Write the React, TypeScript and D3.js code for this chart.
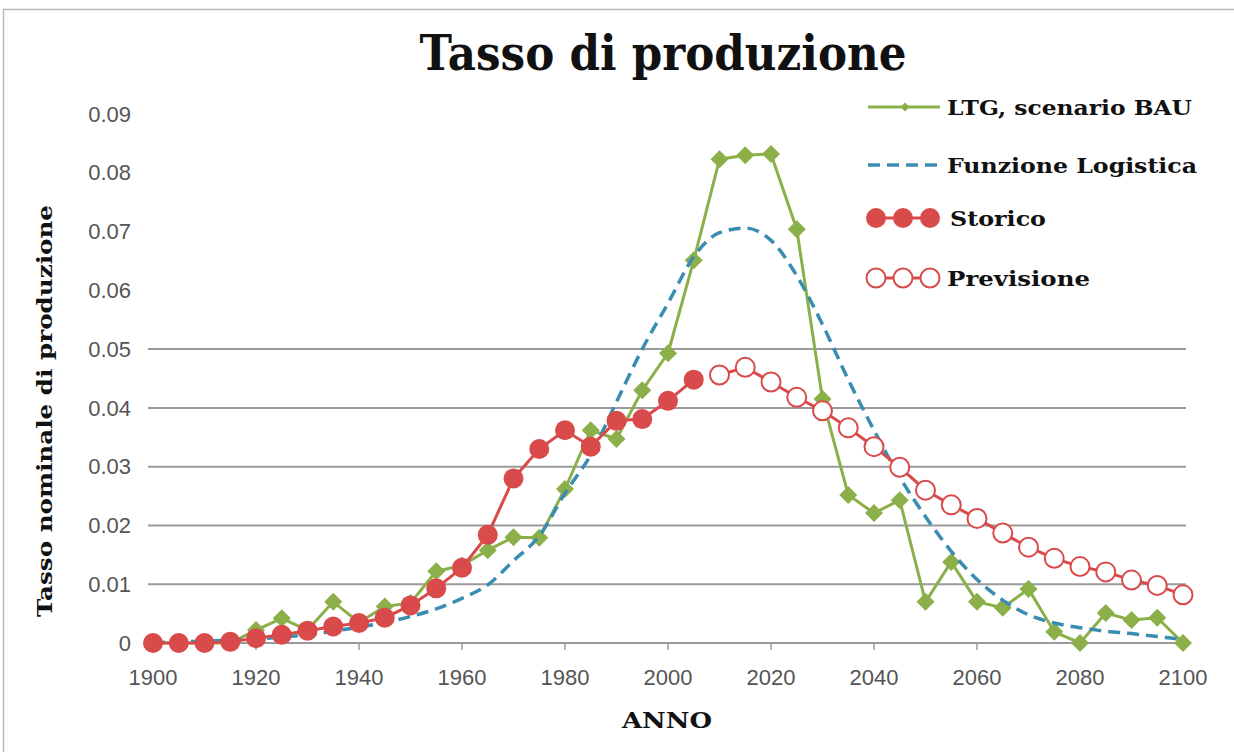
import React from 'react'
import * as d3 from 'd3'

const years = d3.range(1900, 2101, 5)
const storicoYears = d3.range(1900, 2006, 5)
const previsioneYears = d3.range(2010, 2101, 5)

const ltgValues = [
  0, 0, 0, 0, 0.0022, 0.0042, 0.0022, 0.007, 0.0035, 0.0062, 0.0068, 0.0122, 0.0132, 0.0158, 0.018,
  0.0179, 0.0262, 0.0362, 0.0347, 0.043, 0.0493, 0.0651, 0.0823, 0.083, 0.0832, 0.0704, 0.0415,
  0.0252, 0.0221, 0.0243, 0.007, 0.0138, 0.007, 0.006, 0.0092, 0.0019, 0, 0.0051, 0.0039, 0.0043, 0,
]

const logisticaValues = [
  0.0001, 0.0002, 0.0003, 0.0005, 0.0007, 0.001, 0.0014, 0.002, 0.0027, 0.0035, 0.0045, 0.0058,
  0.0076, 0.0099, 0.014, 0.0182, 0.0255, 0.032, 0.041, 0.05, 0.0578, 0.0657, 0.0698, 0.0706,
  0.0685, 0.0625, 0.0542, 0.0448, 0.0362, 0.0282, 0.0215, 0.0156, 0.0108, 0.0073, 0.0048, 0.0034,
  0.0026, 0.002, 0.0016, 0.0011, 0.0006,
]

const storicoValues = [
  0, 0, 0, 0.0002, 0.0008, 0.0014, 0.0021, 0.0028, 0.0034, 0.0043, 0.0064, 0.0093, 0.0128, 0.0184,
  0.028, 0.033, 0.0362, 0.0334, 0.0378, 0.0381, 0.0412, 0.0448,
]

const previsioneValues = [
  0.0456, 0.0469, 0.0444, 0.0418, 0.0395, 0.0366, 0.0334, 0.0299, 0.026, 0.0235, 0.0212, 0.0187,
  0.0163, 0.0144, 0.013, 0.0121, 0.0107, 0.0098, 0.0082,
]

const yTicks = [0, 0.01, 0.02, 0.03, 0.04, 0.05, 0.06, 0.07, 0.08, 0.09]
const gridTicks = [0.01, 0.02, 0.03, 0.04, 0.05]
const xTicks = d3.range(1900, 2101, 20)

const legendLabels = ['LTG, scenario BAU', 'Funzione Logistica', 'Storico', 'Previsione']

const GREEN = '#8bb04a'
const RED = '#d94a4a'
const BLUE = '#3a8db2'
const SERIF = '"DejaVu Serif", "Liberation Serif", serif'
const SANS = '"Liberation Sans", Arial, sans-serif'

const App = () => {
  const width = 1234
  const height = 752

  const x = d3.scaleLinear().domain([1900, 2100]).range([153, 1183])
  const y = d3.scaleLinear().domain([0, 0.09]).range([643, 114])

  const straight = d3
    .line<[number, number]>()
    .x((d) => x(d[0]))
    .y((d) => y(d[1]))
  const smooth = d3
    .line<[number, number]>()
    .x((d) => x(d[0]))
    .y((d) => y(d[1]))
    .curve(d3.curveMonotoneX)

  const ltg = years.map((yr, i) => [yr, ltgValues[i]] as [number, number])
  const logistica = years.map((yr, i) => [yr, logisticaValues[i]] as [number, number])
  const storico = storicoYears.map((yr, i) => [yr, storicoValues[i]] as [number, number])
  const previsione = previsioneYears.map((yr, i) => [yr, previsioneValues[i]] as [number, number])

  const diamond = (cx: number, cy: number, r: number) =>
    `M${cx},${cy - r}L${cx + r},${cy}L${cx},${cy + r}L${cx - r},${cy}Z`

  const legendX = 868
  const legendRows = [107, 165, 218, 278]

  return (
    <div style={{ position: 'absolute', left: 0, top: 0 }}>
      <svg width={width} height={height} style={{ display: 'block', background: '#fff' }}>
        <rect x={3.5} y={9.5} width={1400} height={900} fill="none" stroke="#b8b8b8" strokeWidth={1.5} />

        <text
          x={663}
          y={70}
          textAnchor="middle"
          fontFamily={SERIF}
          fontWeight="bold"
          fontSize={48}
          textLength={487}
          lengthAdjust="spacingAndGlyphs"
          fill="#111"
        >
          Tasso di produzione
        </text>

        {/* grid */}
        {gridTicks.map((t) => (
          <line key={t} x1={148} x2={1186} y1={y(t)} y2={y(t)} stroke="#9a9a9a" strokeWidth={2} />
        ))}
        <line x1={148} x2={1186} y1={y(0)} y2={y(0)} stroke="#9a9a9a" strokeWidth={2} />
        {xTicks.map((t) => (
          <line key={t} x1={x(t)} x2={x(t)} y1={y(0)} y2={y(0) + 7} stroke="#9a9a9a" strokeWidth={1.5} />
        ))}

        {/* tick labels */}
        {yTicks.map((t) => (
          <text
            key={t}
            x={131}
            y={y(t)}
            dy="0.35em"
            textAnchor="end"
            fontFamily={SANS}
            fontSize={22}
            fill="#555"
          >
            {t === 0 ? '0' : t.toFixed(2)}
          </text>
        ))}
        {xTicks.map((t) => (
          <text key={t} x={x(t)} y={685} textAnchor="middle" fontFamily={SANS} fontSize={22} fill="#555">
            {t}
          </text>
        ))}

        <text
          transform="translate(52,411) rotate(-90)"
          textAnchor="middle"
          fontFamily={SERIF}
          fontWeight="bold"
          fontSize={21}
          textLength={412}
          lengthAdjust="spacingAndGlyphs"
          fill="#111"
        >
          Tasso nominale di produzione
        </text>
        <text
          x={667}
          y={728}
          textAnchor="middle"
          fontFamily={SERIF}
          fontWeight="bold"
          fontSize={22}
          textLength={90}
          lengthAdjust="spacingAndGlyphs"
          fill="#111"
        >
          ANNO
        </text>

        {/* LTG */}
        <path d={straight(ltg) ?? ''} fill="none" stroke={GREEN} strokeWidth={3} strokeLinejoin="round" />
        {ltg.map((d) => (
          <path key={d[0]} d={diamond(x(d[0]), y(d[1]), 9)} fill={GREEN} />
        ))}

        {/* Funzione logistica */}
        <path
          d={smooth(logistica) ?? ''}
          fill="none"
          stroke={BLUE}
          strokeWidth={3.5}
          strokeDasharray="12 7"
        />

        {/* Storico */}
        <path d={straight(storico) ?? ''} fill="none" stroke={RED} strokeWidth={3} />
        {storico.map((d) => (
          <circle key={d[0]} cx={x(d[0])} cy={y(d[1])} r={10} fill={RED} />
        ))}

        {/* Previsione */}
        <path d={straight(previsione) ?? ''} fill="none" stroke={RED} strokeWidth={3} />
        {previsione.map((d) => (
          <circle key={d[0]} cx={x(d[0])} cy={y(d[1])} r={9.5} fill="#fff" stroke={RED} strokeWidth={2} />
        ))}

        {/* legend */}
        <g>
          <line x1={legendX} x2={legendX + 72} y1={legendRows[0]} y2={legendRows[0]} stroke={GREEN} strokeWidth={3} />
          <path d={diamond(legendX + 37, legendRows[0], 4.5)} fill={GREEN} />

          <line
            x1={legendX}
            x2={legendX + 72}
            y1={legendRows[1]}
            y2={legendRows[1]}
            stroke={BLUE}
            strokeWidth={3.5}
            strokeDasharray="12 7"
          />

          <line x1={legendX + 8} x2={legendX + 62} y1={legendRows[2]} y2={legendRows[2]} stroke={RED} strokeWidth={3} />
          {[8, 35, 62].map((o) => (
            <circle key={o} cx={legendX + o} cy={legendRows[2]} r={10} fill={RED} />
          ))}

          <line x1={legendX + 8} x2={legendX + 62} y1={legendRows[3]} y2={legendRows[3]} stroke={RED} strokeWidth={3} />
          {[8, 35, 62].map((o) => (
            <circle key={o} cx={legendX + o} cy={legendRows[3]} r={9.5} fill="#fff" stroke={RED} strokeWidth={2} />
          ))}

          {legendLabels.map((label, i) => (
            <text
              key={label}
              x={i === 2 ? 950 : 947}
              y={legendRows[i] + 8}
              fontFamily={SERIF}
              fontWeight="bold"
              fontSize={21}
              textLength={[245, 250, 96, 143][i]}
              lengthAdjust="spacingAndGlyphs"
              fill="#111"
            >
              {label}
            </text>
          ))}
        </g>
      </svg>
    </div>
  )
}

export default App
